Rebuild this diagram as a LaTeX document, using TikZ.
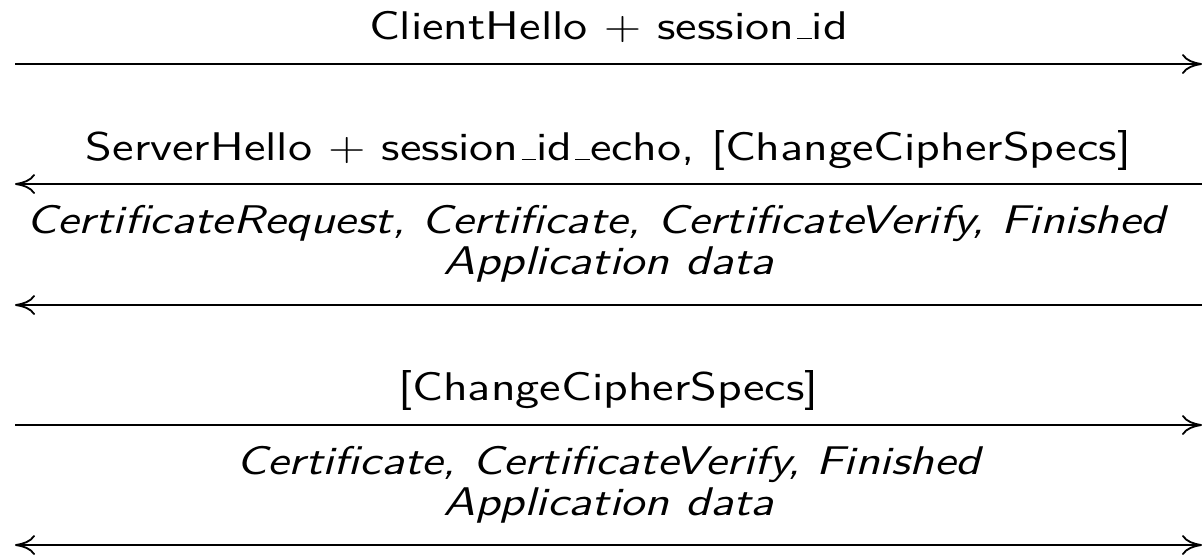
\documentclass[tikz,border=0pt]{standalone}
\usepackage{graphicx}
\usetikzlibrary{arrows.meta}
\newcommand\usc{\leavevmode\kern.06em\vbox{\hrule width.3em}}
\newcommand\wide[1]{\scalebox{1.23}[1]{#1}}
\begin{document}
\begin{tikzpicture}[x=0.3pt,y=-0.3pt,
  msg/.style={line width=0.55pt,-{To[length=6pt,width=6pt]}},
  bmsg/.style={line width=0.55pt,{To[length=6pt,width=6pt]}-{To[length=6pt,width=6pt]}},
  lbl/.style={anchor=base,inner sep=0pt,font=\fontsize{12}{14.5}\selectfont\sffamily},
  ilbl/.style={anchor=base,inner sep=0pt,font=\fontsize{12}{14.5}\selectfont\sffamily\itshape}]
\useasboundingbox (0,0) rectangle (1202,558);
\coordinate (l1) at (15,64);   \coordinate (r1) at (1202,64);
\coordinate (l2) at (15,184);  \coordinate (r2) at (1202,184);
\coordinate (l3) at (15,305);  \coordinate (r3) at (1202,305);
\coordinate (l4) at (15,425);  \coordinate (r4) at (1202,425);
\coordinate (l5) at (15,545);  \coordinate (r5) at (1202,545);
\draw[msg] (l1) -- (r1);
\draw[msg] (r2) -- (l2);
\draw[msg] (r3) -- (l3);
\draw[msg] (l4) -- (r4);
\draw[bmsg] (l5) -- (r5);
\node[lbl] (t1) at (608.5,39) {\wide{ClientHello $+$ session\usc id}};
\node[lbl] (t2) at (608.5,160) {\wide{ServerHello $+$ session\usc id\usc echo, [ChangeCipherSpecs]}};
\node[ilbl] (t3a) at (596,233) {\wide{CertificateRequest, Certificate, CertificateVerify, Finished}};
\node[ilbl] (t3b) at (608.5,274) {\wide{Application data}};
\node[lbl] (t4) at (608.5,400) {\wide{[ChangeCipherSpecs]}};
\node[ilbl] (t5a) at (608.5,474) {\wide{Certificate, CertificateVerify, Finished}};
\node[ilbl] (t5b) at (608.5,515) {\wide{Application data}};
\end{tikzpicture}
\end{document}
